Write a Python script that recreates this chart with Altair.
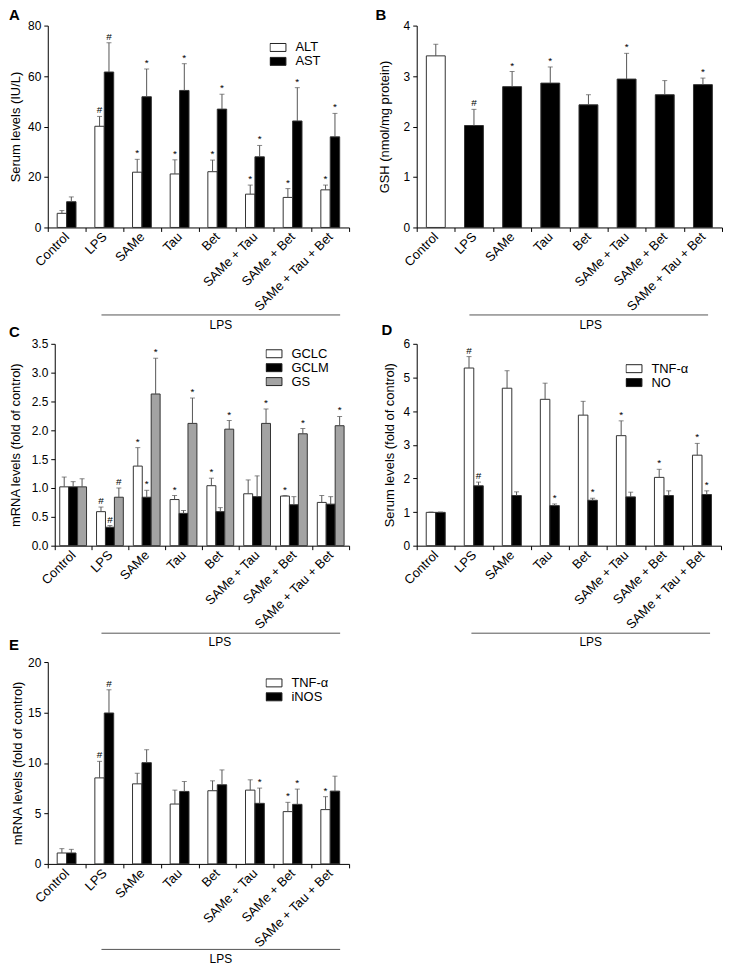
import altair as alt
import pandas as pd

FONT = "Liberation Sans"

categories = ["Control", "LPS", "SAMe", "Tau", "Bet", "SAMe + Tau", "SAMe + Bet", "SAMe + Tau + Bet"]

# Panel A: serum ALT / AST (IU/L)
a_names = ["ALT", "AST"]
a_alt = [5.6, 40.1, 21.9, 21.2, 22.1, 13.2, 11.9, 14.9]
a_alt_err = [1.1, 3.9, 5.1, 5.6, 4.6, 3.6, 3.5, 1.9]
a_alt_sig = ["", "#", "*", "*", "*", "*", "*", "*"]
a_ast = [10.2, 61.6, 51.8, 54.3, 46.9, 28.0, 42.2, 35.9]
a_ast_err = [1.9, 11.6, 11.0, 10.6, 5.9, 4.5, 13.2, 9.3]
a_ast_sig = ["", "#", "*", "*", "*", "*", "*", "*"]

# Panel B: GSH (nmol/mg protein)
b_names = ["GSH"]
b_gsh = [3.40, 2.02, 2.79, 2.86, 2.43, 2.94, 2.63, 2.83]
b_gsh_err = [0.23, 0.32, 0.30, 0.32, 0.20, 0.51, 0.28, 0.13]
b_gsh_sig = ["", "#", "*", "*", "", "*", "", "*"]

# Panel C: mRNA levels (fold of control)
c_names = ["GCLC", "GCLM", "GS"]
c_gclc = [1.02, 0.59, 1.38, 0.80, 1.04, 0.90, 0.86, 0.75]
c_gclc_err = [0.17, 0.08, 0.32, 0.07, 0.13, 0.24, 0.01, 0.12]
c_gclc_sig = ["", "#", "*", "*", "*", "", "*", ""]
c_gclm = [1.02, 0.32, 0.84, 0.56, 0.59, 0.85, 0.71, 0.72]
c_gclm_err = [0.09, 0.03, 0.12, 0.05, 0.07, 0.36, 0.14, 0.13]
c_gclm_sig = ["", "#", "*", "", "", "", "", ""]
c_gs = [1.02, 0.84, 2.63, 2.12, 2.02, 2.12, 1.94, 2.08]
c_gs_err = [0.14, 0.16, 0.62, 0.44, 0.15, 0.25, 0.09, 0.16]
c_gs_sig = ["", "#", "*", "*", "*", "*", "*", "*"]

# Panel D: serum levels (fold of control)
d_names = ["TNF-α", "NO"]
d_tnf = [0.99, 5.28, 4.68, 4.35, 3.88, 3.27, 2.03, 2.69]
d_tnf_err = [0.01, 0.34, 0.52, 0.48, 0.41, 0.44, 0.24, 0.35]
d_tnf_sig = ["", "#", "", "", "", "*", "*", "*"]
d_no = [0.99, 1.78, 1.49, 1.19, 1.35, 1.45, 1.49, 1.52]
d_no_err = [0.01, 0.11, 0.11, 0.05, 0.06, 0.14, 0.14, 0.11]
d_no_sig = ["", "#", "", "*", "*", "", "", "*"]

# Panel E: mRNA levels (fold of control)
e_names = ["TNF-α", "iNOS"]
e_tnf = [1.08, 8.52, 7.93, 5.93, 7.25, 7.31, 5.18, 5.38]
e_tnf_err = [0.43, 1.64, 1.05, 1.38, 0.98, 1.02, 0.92, 1.28]
e_tnf_sig = ["", "#", "", "", "", "", "*", "*"]
e_inos = [1.08, 14.95, 10.03, 7.18, 7.84, 6.00, 5.90, 7.21]
e_inos_err = [0.36, 2.30, 1.28, 0.98, 1.47, 1.51, 1.51, 1.48]
e_inos_sig = ["", "#", "", "", "", "*", "*", ""]

WHITE, BLACK, GRAY = "#ffffff", "#000000", "#a3a3a3"
H = 203


def make_df(names, values, errs, sigs):
    rows = []
    for name, vals, es, ss in zip(names, values, errs, sigs):
        for c, v, e, s in zip(categories, vals, es, ss):
            rows.append({"cat": c, "series": name, "value": v, "top": v + e, "sig": s,
                         "grp": "Control" if c == "Control" else "LPS"})
    return pd.DataFrame(rows)


def legend_def(lx, ly):
    return alt.Legend(orient="none", legendX=lx, legendY=ly, title=None,
                      symbolType="M-1,-0.5H1V0.5H-1Z", symbolSize=256,
                      symbolStrokeColor="#222", symbolStrokeWidth=1,
                      labelFont=FONT, labelFontSize=13, labelColor="black",
                      labelOffset=9, padding=0, rowPadding=0, clipHeight=14)


def panel(df, names, fill_field, fill_domain, fill_range, legend, ymax, ystep, yfmt,
          ytitle, title_x, width, pad_outer, letter, letter_xy, lps_line, lps_text,
          left_inset=0):
    nticks = int(round(ymax / ystep))
    yvals = [round(i * ystep, 3) for i in range(nticks + 1)]
    x = alt.X("cat:N", sort=categories,
              scale=alt.Scale(domain=categories, paddingInner=0, paddingOuter=0,
                              range=[left_inset, width]),
              axis=alt.Axis(title=None, labelAngle=-45, labelAlign="right",
                            labelBaseline="middle", labelFontSize=13, labelPadding=3,
                            tickBand="extent", tickSize=4, labelLimit=300))
    xo = alt.XOffset("series:N", sort=names,
                     scale=alt.Scale(domain=names, paddingInner=0,
                                     paddingOuter=min(pad_outer, 1)))
    yaxis = alt.Axis(title=ytitle, values=yvals, format=yfmt, tickSize=4,
                     labelFontSize=12, labelPadding=3, titleFontSize=13,
                     titleX=title_x, titleBaseline="middle", offset=-left_inset)
    yscale = alt.Scale(domain=[0, ymax], nice=False)

    bars = alt.Chart(df).mark_bar(stroke="#333", strokeWidth=1).encode(
        x=x, xOffset=xo,
        y=alt.Y("value:Q", scale=yscale, axis=yaxis),
        fill=alt.Fill(f"{fill_field}:N",
                      scale=alt.Scale(domain=fill_domain, range=fill_range),
                      legend=legend),
    )
    rules = alt.Chart(df).mark_rule(color="#555", strokeWidth=1).encode(
        x=x, xOffset=xo,
        y=alt.Y("value:Q", scale=yscale, axis=yaxis), y2="top:Q")
    caps = alt.Chart(df).mark_tick(color="#555", size=5, thickness=1).encode(
        x=x, xOffset=xo, y=alt.Y("top:Q", scale=yscale, axis=yaxis))
    sig = alt.Chart(df).mark_text(font=FONT, fontSize=10, baseline="bottom", dy=-1,
                                  color="black").encode(
        x=x, xOffset=xo, y=alt.Y("top:Q", scale=yscale, axis=yaxis), text="sig:N")

    lps_df = pd.DataFrame({"t": ["LPS"]})
    lps_rule = alt.Chart(lps_df).mark_rule(color="#555", strokeWidth=1).encode(
        x=alt.value(lps_line[0]), x2=alt.value(lps_line[1]), y=alt.value(lps_line[2]))
    lps_txt = alt.Chart(lps_df).mark_text(font=FONT, fontSize=12, color="black",
                                          baseline="middle").encode(
        x=alt.value(lps_text[0]), y=alt.value(lps_text[1]), text="t:N")
    let_df = pd.DataFrame({"t": [letter]})
    let_txt = alt.Chart(let_df).mark_text(font=FONT, fontSize=15, fontWeight="bold",
                                          color="black", baseline="middle").encode(
        x=alt.value(letter_xy[0]), y=alt.value(letter_xy[1]), text="t:N")
    return alt.layer(bars, rules, caps, sig, lps_rule, lps_txt, let_txt).properties(
        width=width, height=H)


dfA = make_df(a_names, [a_alt, a_ast], [a_alt_err, a_ast_err], [a_alt_sig, a_ast_sig])
dfB = make_df(b_names, [b_gsh], [b_gsh_err], [b_gsh_sig])
dfC = make_df(c_names, [c_gclc, c_gclm, c_gs], [c_gclc_err, c_gclm_err, c_gs_err],
              [c_gclc_sig, c_gclm_sig, c_gs_sig])
dfD = make_df(d_names, [d_tnf, d_no], [d_tnf_err, d_no_err], [d_tnf_sig, d_no_sig])
dfE = make_df(e_names, [e_tnf, e_inos], [e_tnf_err, e_inos_err], [e_tnf_sig, e_inos_sig])

pA = panel(dfA, a_names, "series", a_names, [WHITE, BLACK], legend_def(223, 15),
           80, 20, "d", "Serum levels (IU/L)", -32, 303, 1.0,
           "A", (-33.5, -11), (54, 294, 291), (174, 301))
pB = panel(dfB, b_names, "grp", ["Control", "LPS"], [WHITE, BLACK], None,
           4, 1, "d", "GSH (nmol/mg protein)", -32, 307, 0.51,
           "B", (-36, -11), (53, 293, 291), (175, 301))
pC = panel(dfC, c_names, "series", c_names, [WHITE, BLACK, GRAY], legend_def(219, 3),
           3.5, 0.5, ".1f", "mRNA levels (fold of control)", -39, 303, 0.56,
           "C", (-33.5, -12), (54, 294, 291), (173, 300), left_inset=7)
pD = panel(dfD, d_names, "series", d_names, [WHITE, BLACK], legend_def(210, 18),
           6, 1, "d", "Serum levels (fold of control)", -27, 306, 1.0,
           "D", (-30, -14), (55, 295, 291), (175, 300))
pE = panel(dfE, e_names, "series", e_names, [WHITE, BLACK], legend_def(219, 14),
           20, 5, "d", "mRNA levels (fold of control)", -30, 303, 1.0,
           "E", (-34, -17), (54, 294, 289), (174, 299))

RES = dict(fill="independent", x="independent", y="independent", xOffset="independent")

chart = alt.concat(
    pA, pB, pC, pD, pE, columns=2, bounds="flush",
    spacing={"row": 117, "column": 68}
).resolve_scale(**RES).resolve_legend(fill="independent").properties(
    padding={"left": 0, "top": -3, "right": 0, "bottom": 0}
).configure_view(stroke=None).configure_axis(
    grid=False, domainColor="black", tickColor="black", labelColor="black",
    titleColor="black", labelFont=FONT, titleFont=FONT, titleFontWeight="normal",
    domainWidth=1, tickWidth=1
)

chart.save("out.html", embed_options={"renderer": "svg", "actions": False})
